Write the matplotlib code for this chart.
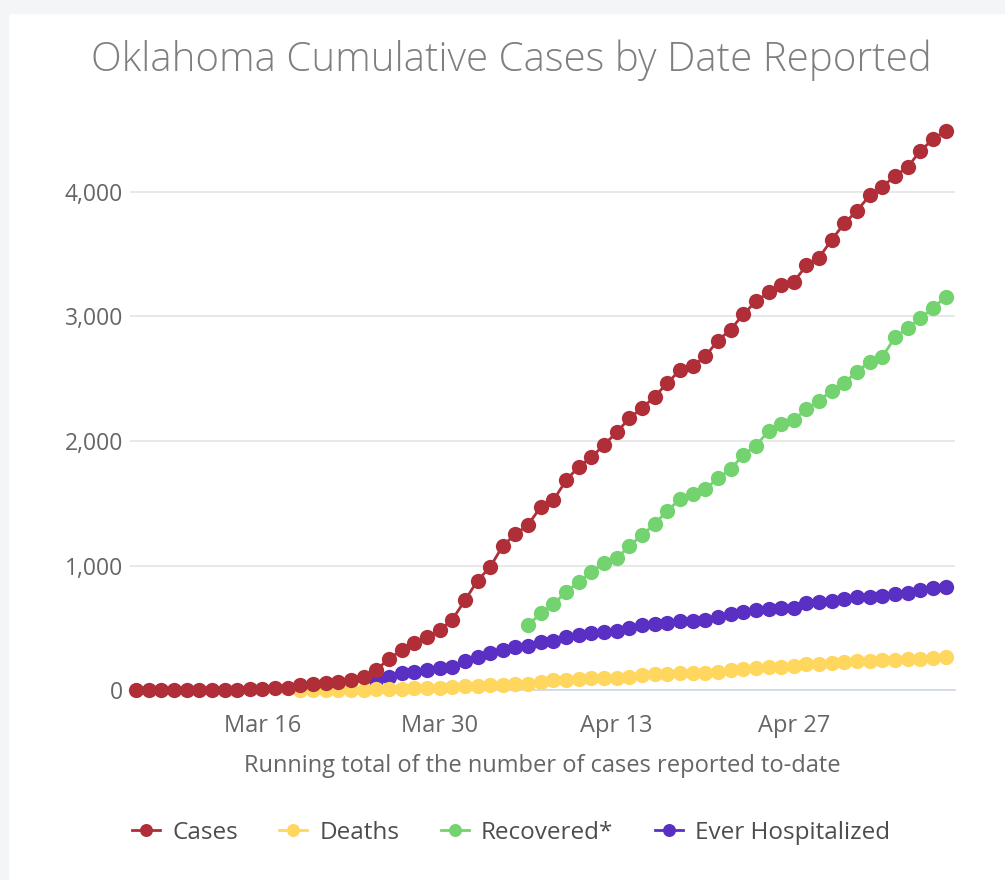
import matplotlib.pyplot as plt
import matplotlib.dates as mdates
from matplotlib.patches import Rectangle
from matplotlib.ticker import FuncFormatter
import pandas as pd

plt.rcParams['font.family'] = ['Open Sans', 'DejaVu Sans']

# Cumulative counts by date reported (2020)
cases_start = '2020-03-06'
cases = [1, 1, 1, 1, 2, 2, 3, 4, 4, 7,
         10, 17, 19, 44, 49, 53, 67, 81, 106, 164,
         248, 322, 377, 429, 481, 565, 719, 879, 988, 1159,
         1252, 1327, 1472, 1524, 1684, 1794, 1868, 1970, 2069, 2184,
         2263, 2357, 2465, 2570, 2599, 2680, 2807, 2894, 3017, 3121,
         3193, 3253, 3280, 3410, 3473, 3618, 3748, 3851, 3972, 4044,
         4127, 4201, 4330, 4424, 4490]

deaths_start = '2020-03-19'
deaths = [1, 1, 1, 2, 2, 3, 5, 7, 8, 15, 16, 17, 23,
          30, 34, 38, 42, 46, 51, 67, 79, 80, 88,
          94, 96, 99, 108, 123, 127, 131, 136, 139, 140,
          143, 164, 170, 179, 187, 188, 195, 207, 209, 219,
          222, 230, 234, 238, 241, 250, 253, 260, 267]

recovered_start = '2020-04-06'
recovered = [522, 616, 688, 790, 865, 950, 1018, 1058, 1157, 1245,
             1333, 1440, 1532, 1574, 1614, 1700, 1773, 1888, 1962, 2080,
             2137, 2169, 2257, 2324, 2404, 2468, 2557, 2637, 2677, 2833,
             2905, 2986, 3066, 3159]

hosp_start = '2020-03-25'
hospitalized = [79,
                107, 134, 147, 161, 174, 187, 235, 262, 295, 321,
                343, 353, 388, 396, 423, 442, 455, 468, 475, 495, 522,
                528, 541, 554, 554, 562, 589, 610, 629, 643, 648,
                656, 656, 696, 704, 715, 729, 745, 749, 755, 771,
                781, 803, 817, 825]

tick_dates = ['2020-03-16', '2020-03-30', '2020-04-13', '2020-04-27']

series = [
    ('Ever Hospitalized', hosp_start, hospitalized, '#5a2fc4', 2),
    ('Deaths', deaths_start, deaths, '#ffd75e', 3),
    ('Recovered*', recovered_start, recovered, '#72d36f', 4),
    ('Cases', cases_start, cases, '#b02e38', 5),
]

fig = plt.figure(figsize=(10.05, 8.8), dpi=100)
fig.patch.set_facecolor('white')
fig.patches.append(Rectangle((0, 1 - 13 / 880), 1, 13 / 880, transform=fig.transFigure,
                             color='#f4f5f7', zorder=0))
fig.patches.append(Rectangle((0, 0), 8 / 1005, 1 - 13 / 880, transform=fig.transFigure,
                             color='#f4f5f7', zorder=0))

ax = fig.add_axes([130 / 1005, 190 / 880, 825 / 1005, 570 / 880])

handles = {}
for name, start, vals, color, z in series:
    dates = pd.date_range(start, periods=len(vals), freq='D')
    h, = ax.plot(dates, vals, color=color, lw=2, marker='o', markersize=11,
                 markeredgewidth=0, zorder=z, clip_on=False, label=name)
    handles[name] = h

first = pd.Timestamp(cases_start)
ax.set_xlim(first - pd.Timedelta(hours=11.3), first + pd.Timedelta(days=64.74))
ax.set_ylim(0, 570 / 0.1245)

ax.set_yticks([0, 1000, 2000, 3000, 4000])
ax.yaxis.set_major_formatter(FuncFormatter(lambda v, p: f'{v:,.0f}'))
ax.set_xticks(pd.to_datetime(tick_dates))
ax.xaxis.set_major_formatter(mdates.DateFormatter('%b %d'))
ax.grid(axis='y', color='#e6e6e6', lw=1.3)
ax.set_axisbelow(True)
for s in ['top', 'right', 'left']:
    ax.spines[s].set_visible(False)
ax.spines['bottom'].set_color('#ccd6eb')
ax.spines['bottom'].set_linewidth(1.2)
ax.spines['bottom'].set_zorder(1)
ax.tick_params(axis='y', length=0, pad=5, labelsize=16.5, labelcolor='#666666')
ax.tick_params(axis='x', length=0, pad=17, labelsize=17, labelcolor='#666666')

ax.set_xlabel('Running total of the number of cases reported to-date',
              fontsize=17, color='#666666', labelpad=12)

fig.text(511 / 1005, 1 - 60 / 880, 'Oklahoma Cumulative Cases by Date Reported',
         ha='center', va='center', fontsize=29, color='#7f7f7f', fontweight='light')

order = ['Cases', 'Deaths', 'Recovered*', 'Ever Hospitalized']
fig.legend([handles[n] for n in order], order, loc='center',
           bbox_to_anchor=(511 / 1005, 1 - 833 / 880), ncol=4, frameon=False,
           fontsize=17.5, labelcolor='#4d4d4d', handlelength=1.15, handletextpad=0.5,
           columnspacing=1.7, markerscale=0.85)

fig.savefig('out.png', dpi=100, facecolor=fig.get_facecolor())
